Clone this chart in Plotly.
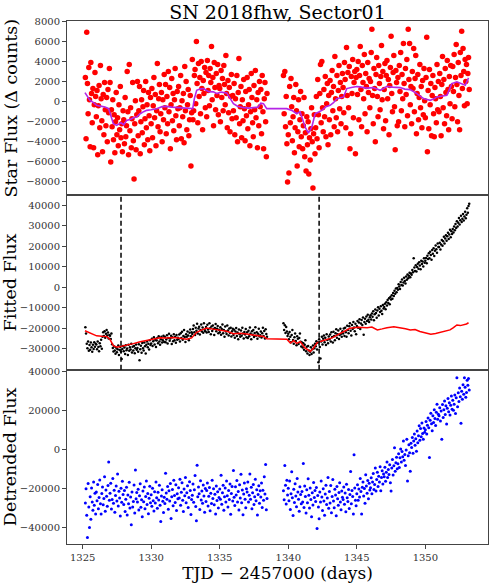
import plotly.graph_objects as go
from plotly.subplots import make_subplots

# observation times (TJD - 2457000), two orbits with a gap
t = [
    1325.20, 1325.25, 1325.30, 1325.35, 1325.40, 1325.45, 1325.50, 1325.55, 1325.60, 1325.65, 1325.70, 1325.75, 1325.80, 1325.85, 1325.90, 1325.95,
    1326.00, 1326.05, 1326.10, 1326.15, 1326.20, 1326.25, 1326.30, 1326.35, 1326.40, 1326.45, 1326.50, 1326.55, 1326.60, 1326.65, 1326.70, 1326.75, 1326.80, 1326.85, 1326.90, 1326.95,
    1327.00, 1327.05, 1327.10, 1327.15, 1327.20, 1327.25, 1327.30, 1327.35, 1327.40, 1327.45, 1327.50, 1327.55, 1327.60, 1327.65, 1327.70, 1327.75, 1327.80, 1327.85, 1327.90, 1327.95,
    1328.00, 1328.05, 1328.10, 1328.15, 1328.20, 1328.25, 1328.30, 1328.35, 1328.40, 1328.45, 1328.50, 1328.55, 1328.60, 1328.65, 1328.70, 1328.75, 1328.80, 1328.85, 1328.90, 1328.95,
    1329.00, 1329.05, 1329.10, 1329.15, 1329.20, 1329.25, 1329.30, 1329.35, 1329.40, 1329.45, 1329.50, 1329.55, 1329.60, 1329.65, 1329.70, 1329.75, 1329.80, 1329.85, 1329.90, 1329.95,
    1330.00, 1330.05, 1330.10, 1330.15, 1330.20, 1330.25, 1330.30, 1330.35, 1330.40, 1330.45, 1330.50, 1330.55, 1330.60, 1330.65, 1330.70, 1330.75, 1330.80, 1330.85, 1330.90, 1330.95,
    1331.00, 1331.05, 1331.10, 1331.15, 1331.20, 1331.25, 1331.30, 1331.35, 1331.40, 1331.45, 1331.50, 1331.55, 1331.60, 1331.65, 1331.70, 1331.75, 1331.80, 1331.85, 1331.90, 1331.95,
    1332.00, 1332.05, 1332.10, 1332.15, 1332.20, 1332.25, 1332.30, 1332.35, 1332.40, 1332.45, 1332.50, 1332.55, 1332.60, 1332.65, 1332.70, 1332.75, 1332.80, 1332.85, 1332.90, 1332.95,
    1333.00, 1333.05, 1333.10, 1333.15, 1333.20, 1333.25, 1333.30, 1333.35, 1333.40, 1333.45, 1333.50, 1333.55, 1333.60, 1333.65, 1333.70, 1333.75, 1333.80, 1333.85, 1333.90, 1333.95,
    1334.00, 1334.05, 1334.10, 1334.15, 1334.20, 1334.25, 1334.30, 1334.35, 1334.40, 1334.45, 1334.50, 1334.55, 1334.60, 1334.65, 1334.70, 1334.75, 1334.80, 1334.85, 1334.90, 1334.95,
    1335.00, 1335.05, 1335.10, 1335.15, 1335.20, 1335.25, 1335.30, 1335.35, 1335.40, 1335.45, 1335.50, 1335.55, 1335.60, 1335.65, 1335.70, 1335.75, 1335.80, 1335.85, 1335.90, 1335.95,
    1336.00, 1336.05, 1336.10, 1336.15, 1336.20, 1336.25, 1336.30, 1336.35, 1336.40, 1336.45, 1336.50, 1336.55, 1336.60, 1336.65, 1336.70, 1336.75, 1336.80, 1336.85, 1336.90, 1336.95,
    1337.00, 1337.05, 1337.10, 1337.15, 1337.20, 1337.25, 1337.30, 1337.35, 1337.40, 1337.45, 1337.50, 1337.55, 1337.60, 1337.65, 1337.70, 1337.75, 1337.80, 1337.85, 1337.90, 1337.95,
    1338.00, 1338.05, 1338.10, 1338.15, 1338.20, 1338.25, 1338.30, 1338.35, 1338.40, 1338.45,
    1339.65, 1339.70, 1339.75, 1339.80, 1339.85, 1339.90, 1339.95,
    1340.00, 1340.05, 1340.10, 1340.15, 1340.20, 1340.25, 1340.30, 1340.35, 1340.40, 1340.45, 1340.50, 1340.55, 1340.60, 1340.65, 1340.70, 1340.75, 1340.80, 1340.85, 1340.90, 1340.95,
    1341.00, 1341.05, 1341.10, 1341.15, 1341.20, 1341.25, 1341.30, 1341.35, 1341.40, 1341.45, 1341.50, 1341.55, 1341.60, 1341.65, 1341.70, 1341.75, 1341.80, 1341.85, 1341.90, 1341.95,
    1342.00, 1342.05, 1342.10, 1342.15, 1342.20, 1342.25, 1342.30, 1342.35, 1342.40, 1342.45, 1342.50, 1342.55, 1342.60, 1342.65, 1342.70, 1342.75, 1342.80, 1342.85, 1342.90, 1342.95,
    1343.00, 1343.05, 1343.10, 1343.15, 1343.20, 1343.25, 1343.30, 1343.35, 1343.40, 1343.45, 1343.50, 1343.55, 1343.60, 1343.65, 1343.70, 1343.75, 1343.80, 1343.85, 1343.90, 1343.95,
    1344.00, 1344.05, 1344.10, 1344.15, 1344.20, 1344.25, 1344.30, 1344.35, 1344.40, 1344.45, 1344.50, 1344.55, 1344.60, 1344.65, 1344.70, 1344.75, 1344.80, 1344.85, 1344.90, 1344.95,
    1345.00, 1345.05, 1345.10, 1345.15, 1345.20, 1345.25, 1345.30, 1345.35, 1345.40, 1345.45, 1345.50, 1345.55, 1345.60, 1345.65, 1345.70, 1345.75, 1345.80, 1345.85, 1345.90, 1345.95,
    1346.00, 1346.05, 1346.10, 1346.15, 1346.20, 1346.25, 1346.30, 1346.35, 1346.40, 1346.45, 1346.50, 1346.55, 1346.60, 1346.65, 1346.70, 1346.75, 1346.80, 1346.85, 1346.90, 1346.95,
    1347.00, 1347.05, 1347.10, 1347.15, 1347.20, 1347.25, 1347.30, 1347.35, 1347.40, 1347.45, 1347.50, 1347.55, 1347.60, 1347.65, 1347.70, 1347.75, 1347.80, 1347.85, 1347.90, 1347.95,
    1348.00, 1348.05, 1348.10, 1348.15, 1348.20, 1348.25, 1348.30, 1348.35, 1348.40, 1348.45, 1348.50, 1348.55, 1348.60, 1348.65, 1348.70, 1348.75, 1348.80, 1348.85, 1348.90, 1348.95,
    1349.00, 1349.05, 1349.10, 1349.15, 1349.20, 1349.25, 1349.30, 1349.35, 1349.40, 1349.45, 1349.50, 1349.55, 1349.60, 1349.65, 1349.70, 1349.75, 1349.80, 1349.85, 1349.90, 1349.95,
    1350.00, 1350.05, 1350.10, 1350.15, 1350.20, 1350.25, 1350.30, 1350.35, 1350.40, 1350.45, 1350.50, 1350.55, 1350.60, 1350.65, 1350.70, 1350.75, 1350.80, 1350.85, 1350.90, 1350.95,
    1351.00, 1351.05, 1351.10, 1351.15, 1351.20, 1351.25, 1351.30, 1351.35, 1351.40, 1351.45, 1351.50, 1351.55, 1351.60, 1351.65, 1351.70, 1351.75, 1351.80, 1351.85, 1351.90, 1351.95,
    1352.00, 1352.05, 1352.10, 1352.15, 1352.20, 1352.25, 1352.30, 1352.35, 1352.40, 1352.45, 1352.50, 1352.55, 1352.60, 1352.65, 1352.70, 1352.75, 1352.80, 1352.85, 1352.90, 1352.95,
    1353.00, 1353.05, 1353.10, 1353.15, 1353.20,
]

# star flux (delta counts)
star_flux = [
    2400, -3700, 6900, 1800, -1200, 3400, 200, -4500, 3900, 800, -2100, 1300, -4600, -300, 2900, 500,
    -1500, 1100, -5300, -400, 1600, -2600, 3600, 300, -1900, -5000, 700, -3300, 1900, -800, -2400, 400, -4000, 1200, -1100, 3300,
    1900, -6000, -800, -2500, 200, -3800, -1300, -5100, -2000, 900, -3300, -1600, -4400, -300, -2800, 1500, -3600, -2200, -5000, -900,
    -1800, -4200, 400, -3500, -2400, 3000, -1000, -5300, 3700, -2900, -600, -4600, -1700, 1900, -3900, -7700, -2200, 100, -4800, -1300,
    2000, -3400, -900, 1500, -5200, -2000, 200, -3100, -500, 1100, -4300, -1700, 2000, -2600, -300, -3800, 900, -1400, -4900, 400,
    -2200, 1300, -3600, -400, 2400, -1600, 700, -4400, -900, 3800, -2500, 300, 1700, -3000, -1200, 900, -4000, 200, -1800, 2700,
    -600, 1700, -3200, 500, -2200, 3000, -1000, 1400, -4700, -300, 2300, -1900, 800, -2900, 200, 3300, -1400, -3800, 1000, -700,
    1500, -2400, -600, 2600, -3700, 100, -1500, 800, -4100, 3500, -900, 2000, -2800, -300, 1200, -3400, -1800, 600, -6400, -1100,
    4200, -1800, -900, 2600, 3200, -200, 6000, 1800, -2100, 3800, 500, 2400, -1200, 4000, 1300, -2800, 2100, 800, 3400, -600,
    2900, -1500, 4100, 1100, 2600, -400, 3300, 1900, 5500, 200, 2400, -2400, 3900, 1400, -800, 2800, 600, 3700, -1300, 1600,
    1300, -2000, 3100, 400, 2300, -900, 3600, 1700, -300, 4600, 800, -2600, 2100, -1100, 1400, -3000, 500, 2700, -1700, 600,
    -900, 1800, -3300, 300, -1600, 2600, -4000, 900, 4300, -2200, -500, 1500, -3600, 200, -1900, 2200, -700, -3900, 1000, -1400,
    2400, -2700, -300, 1200, -4400, -1000, 2800, 400, -2100, -3500, 1600, -800, 3100, -1600, 200, -4600, 900, -2400, 2000, -500,
    1200, -3200, 2600, -1000, -4700, 300, 1900, -2000, -5500, 800,
    2600, -1200, 3000, -2500, 500, -4200, -8000,
    -3300, -7100, 1500, -2100, 2300, -500, -3900, -1500, 400, -5100, -2600, 1700, -900, -6400, -3000, 200, -4500, -1800, 1000, -3500,
    -1200, -4700, -2400, 400, -5500, -3100, -6900, -1500, -4300, -2000, -7200, -3600, -5800, -2700, -600, -4000, -8600, -3200, -1300, -5200,
    -2600, 500, -3700, 2200, -1300, -4600, 800, 3700, -2100, 4000, -600, -3000, 1200, -1500, 2500, -3500, -200, 1800, -4300, 600,
    -1800, 2100, -3300, 900, 3100, -900, 1500, -2500, 4500, 300, -1600, 2600, -3000, 1100, 3600, -700, 1900, -2200, 500, 2800,
    1400, -1100, 3900, 2200, -2600, 5400, 600, 2900, -600, 3500, -4700, -3200, 2500, 800, 4200, -1600, 1900, 3000, -5200, 2400,
    3200, 700, 4000, -1800, 2600, 5500, 1200, -2500, 3600, 1900, 300, 4700, -1200, 2800, 1500, -3000, 3900, 900, 2300, -600,
    2000, 4900, 7200, 600, -2200, 3300, 1300, -4000, 2700, 4400, 500, -1500, 3600, 1800, -800, 2500, 5600, 200, 3000, -2700,
    1200, 3800, -1900, 2600, 4100, 300, 2200, -3300, 1600, 3400, 6500, 800, -1000, 2900, 4600, -500, -4800, 3100, 1900, -2400,
    2400, -2000, 3600, 1000, 4900, -900, 2700, 300, 5800, 1800, -2500, 3300, 700, 4200, -1400, 7200, 2200, 5800, -300, 1500,
    -2200, 3000, 1300, 5300, -1000, 2300, 4600, -3200, 800, 2700, -1800, 400, 3700, -600, 1500, -2600, 2100, -1300, 3300, 100,
    -1600, 2400, 6400, -5000, 1100, -2700, 3200, -300, 1800, -3400, 600, 2600, -1200, -3500, 1400, 300, -2100, 3700, -800, 2000,
    -1000, 2800, 500, -3400, 1700, 4500, -600, 2200, -2200, 3300, 900, -1400, 4100, 1200, -2800, 2500, -200, 3600, 1500, -1700,
    3500, 1000, 4700, -500, 2400, 5700, 1700, -2000, 3900, 600, -2800, 4900, 2600, 7000, 1300, 5300, 3000, -400, 4200, 2000,
    3700, -200, 2800, 4400, 1200,
]

# running trend of the star flux
trend_t = [1325.17, 1325.35, 1325.54, 1325.8, 1326.02, 1326.3, 1326.63, 1326.9, 1327.1, 1327.24,
           1327.48, 1327.8, 1328.0, 1328.21, 1328.5, 1328.7, 1328.94, 1329.2, 1329.45, 1329.67,
           1330.0, 1330.4, 1330.8, 1331.13, 1331.5, 1331.86, 1332.2, 1332.59, 1333.03, 1333.15,
           1333.32, 1333.55, 1333.81, 1334.2, 1334.54, 1334.8, 1335.1, 1335.51, 1335.75, 1336.0,
           1336.3, 1336.73, 1337.1, 1337.46, 1337.8, 1338.0, 1338.19, 1338.43, 1339.89, 1340.26,
           1340.62, 1340.86, 1341.05, 1341.23, 1341.47, 1341.72, 1341.96, 1342.2, 1342.45, 1342.75,
           1343.05, 1343.3, 1343.54, 1344.03, 1344.27, 1344.6, 1345.0, 1345.24, 1345.7, 1346.22,
           1346.7, 1346.95, 1347.19, 1347.6, 1348.16, 1348.5, 1348.89, 1349.38, 1349.87, 1350.35,
           1350.6, 1350.84, 1351.2, 1351.57, 1351.75, 1351.93, 1352.3, 1352.6, 1352.91, 1353.15]
trend_flux = [900, 500, 130, -100, -370, -450, -530, -700, -1500, -2200,
              -2370, -2100, -2300, -1870, -1750, -1600, -1530, -1200, -1000, -870,
              -800, -700, -500, -470, -550, -600, -650, -700, -700, 300,
              1130, 1250, 1300, 1000, 970, 800, 950, 870, 300, -200,
              -450, -600, -650, -600, -550, -150, -200, -700, -700, -870,
              -1200, -1000, -1800, -2530, -3130, -2530, -1200, -1000, -870, -500,
              -370, -100, 300, 470, 1300, 1400, 1500, 1470, 1350, 1400,
              1130, 1300, 1530, 1450, 1400, 1250, 1200, 800, 300, 130,
              250, 470, 550, 630, 1200, 1800, 1970, 1800, 1630, 2370]

# fitted flux
fitted_flux = [
    -19500, -22500, -27500, -29800, -26400, -31000, -28200, -30500, -27000, -29300, -31500, -28000, -30100, -26800, -29000, -27600,
    -27900, -30200, -26500, -29100, -31200, -27300, -28800, -25600, -30000, -24200, -22000, -23800, -21400, -24600, -22700, -20900, -23500, -22100, -25000, -23300,
    -23700, -25200, -22600, -27800, -29600, -31300, -28900, -30800, -32400, -29500, -31700, -30200, -28400, -33100, -30600, -29200, -31500, -35000, -30100, -28600,
    -31200, -29400, -32500, -28300, -30700, -29900, -33000, -28000, -31000, -29300, -30400, -27600, -31800, -29000, -30900, -28700, -32200, -29800, -27900, -30500,
    -29600, -31400, -27800, -35600, -30200, -28500, -31900, -27200, -29700, -30800, -26900, -28800, -32300, -28100, -26400, -29300, -27500, -30400, -25800, -28200,
    -27400, -25100, -28600, -26300, -24400, -27900, -25700, -29200, -26000, -24800, -27300, -23900, -26500, -28100, -25300, -24200, -27000, -25900, -23600, -26700,
    -24300, -26800, -25500, -23400, -27400, -24800, -22700, -26100, -25000, -23600, -27700, -24400, -26300, -22900, -25800, -24100, -27100, -23300, -25600, -24600,
    -25200, -23100, -26400, -22400, -24800, -21700, -25600, -23800, -20900, -24300, -26700, -22900, -24100, -21600, -23500, -25900, -22200, -20600, -23900, -21900,
    -22800, -20400, -18600, -21900, -23300, -19800, -21200, -17800, -22500, -20100, -19300, -23000, -20800, -18200, -21600, -19600, -22200, -17500, -20700, -21400,
    -19400, -22100, -18300, -20600, -21800, -17600, -20000, -22900, -19200, -21300, -18700, -20400, -23300, -19900, -17900, -21500, -20200, -18900, -22400, -20700,
    -21900, -19500, -23200, -20400, -18200, -22400, -20900, -24100, -19100, -21600, -22800, -18700, -21100, -23500, -20100, -22300, -19700, -24000, -21400, -20200,
    -23300, -20700, -24600, -21600, -19900, -23800, -22100, -25300, -20600, -22900, -24200, -21100, -23600, -19800, -22500, -25000, -21800, -23100, -20300, -24400,
    -22000, -24700, -21200, -23900, -19600, -22600, -25400, -21500, -23200, -20800, -24300, -22300, -19500, -23700, -21900, -25100, -22700, -20200, -24000, -23400,
    -21600, -24500, -22400, -19700, -23800, -21300, -25000, -20500, -22800, -24100,
    -17600, -20900, -18500, -22300, -19400, -21600, -23800,
    -22700, -25400, -21800, -24100, -26800, -23300, -20900, -25700, -27500, -24400, -22500, -26200, -28300, -23900, -25100, -27700, -24800, -22600, -26600, -28900,
    -26900, -29400, -27300, -30500, -28100, -25900, -31200, -29000, -32300, -28600, -30800, -33100, -31500, -29300, -32600, -30200, -28400, -31800, -29700, -27500,
    -28800, -26300, -30400, -27100, -36600, -25400, -29100, -34700, -26500, -24100, -27900, -25100, -23500, -26800, -24600, -28200, -22900, -25700, -27300, -24000,
    -25400, -23100, -26500, -22000, -24300, -27000, -21700, -23800, -25800, -22400, -20500, -24600, -22900, -21100, -25200, -23300, -20200, -22700, -24100, -21400,
    -22600, -20100, -23800, -19700, -21900, -24100, -18800, -20900, -22400, -19000, -17600, -21200, -23500, -18400, -20300, -16900, -19600, -21500, -17800, -22900,
    -18900, -16400, -19800, -17200, -15600, -20300, -17700, -16000, -18400, -14800, -23200, -16900, -15300, -17800, -14200, -16500, -13400, -15900, -17000, -14600,
    -13600, -15700, -12800, -14400, -11700, -16100, -13200, -10900, -12600, -14900, -11300, -9800, -13800, -10500, -12100, -9200, -11500, -13100, -8700, -10300,
    -9600, -8100, -10700, -7300, -8900, -6200, -7700, -5400, -8300, -4700, -6000, -3900, -5600, -2800, -4300, -1700, -3200, -600, -2400, -300,
    -1200, 1500, 400, -900, 2600, 1100, 3800, 900, 2300, 4600, 3100, 1800, 5300, 3700, 6200, 4400, 5600, 7100, 4900, 6700,
    6100, 8400, 7300, 14100, 9600, 8000, 10800, 7700, 9900, 11500, 9000, 12200, 10600, 8800, 13000, 11300, 12600, 10100, 14200, 12000,
    12900, 14300, 11700, 15400, 13800, 16600, 14100, 17300, 15700, 13400, 18200, 16300, 19100, 15200, 17800, 20400, 18500, 16900, 21300, 19600,
    19600, 21700, 18400, 20900, 23100, 20200, 22500, 24600, 21300, 23800, 25400, 22700, 24900, 26600, 23500, 25800, 28100, 24400, 27300, 26000,
    28400, 26700, 29600, 27800, 30900, 28900, 32200, 29700, 31500, 33800, 30600, 32700, 34900, 31800, 33400, 35800, 32600, 34500, 36900, 33700,
    35400, 38500, 36300, 39600, 40800,
]

# model (scaled star flux) over the fitted flux
model_t = [1325.17, 1325.5, 1325.8, 1326.02, 1326.4, 1326.75, 1327.0, 1327.24, 1327.5, 1327.85,
           1328.2, 1328.7, 1329.2, 1329.67, 1330.1, 1330.64, 1331.1, 1331.62, 1332.1, 1332.59,
           1332.95, 1333.32, 1333.7, 1334.05, 1334.4, 1334.78, 1335.1, 1335.51, 1336.0, 1336.5,
           1336.97, 1337.5, 1337.9, 1338.19, 1338.43, 1339.9, 1340.15, 1340.4, 1340.6, 1340.88,
           1341.2, 1341.4, 1341.6, 1341.85, 1342.1, 1342.4, 1342.8, 1343.2, 1343.6, 1344.0,
           1344.5, 1345.1, 1345.75, 1346.1, 1346.5, 1346.85, 1347.2, 1347.7, 1348.2, 1348.55,
           1348.9, 1349.25, 1349.6, 1350.0, 1350.4, 1350.75, 1351.1, 1351.45, 1351.8, 1352.05,
           1352.3, 1352.55, 1352.8, 1353.0, 1353.15]
model_flux = [-21200, -22300, -23200, -23700, -23900, -24000, -25500, -28500, -29200, -28800,
              -28200, -27500, -26600, -25900, -25200, -24600, -24800, -24500, -24900, -25300,
              -24700, -22000, -20800, -19900, -20300, -20700, -21000, -21500, -22700, -22400,
              -22850, -23200, -23500, -24000, -25100, -25300, -27200, -26000, -27400, -26600,
              -29500, -30600, -31300, -29600, -27100, -26300, -25500, -24700, -23200, -21800,
              -20000, -19500, -19700, -19400, -20800, -20300, -19700, -19300, -19700, -20200,
              -20800, -20600, -21600, -22300, -22900, -22600, -21900, -21400, -20800, -19700,
              -18400, -18700, -18400, -17900, -17300]

# fit window edges
window_lines = [1327.80, 1342.25]

# detrended flux
detrended_flux = [
    -27500, -20100, -33800, -45200, -17400, -29600, -40100, -24300, -35800, -19700, -26900, -31200, -16600, -28600, -22400, -33100,
    -21800, -26300, -17900, -30500, -24700, -15600, -27900, -33200, -22600, -19300, -28400, -25100, -13900, -31700, -20800, -24000, -29200, -18500, -6300, -26100,
    -22400, -17300, -30600, -25700, -14800, -27600, -20900, -32300, -23600, -18700, -26500, -12600, -29000, -21400, -24900, -34200, -19900, -27100, -16300, -23100,
    -28300, -21000, -31800, -25600, -19400, -33700, -23300, -27900, -16800, -30100, -24400, -38700, -21800, -29500, -26700, -18200, -32600, -10500, -25300, -22100,
    -27000, -20400, -31100, -23700, -17500, -29700, -25800, -34500, -21300, -26800, -19200, -30400, -24100, -16100, -28300, -22600, -33000, -25000, -18800, -27400,
    -23200, -29100, -19900, -26300, -31600, -21700, -27500, -16700, -24800, -30200, -22000, -25900, -18300, -28700, -37000, -23900, -20700, -26600, -32400, -24500,
    -27800, -12100, -22300, -25600, -19000, -30700, -21200, -26400, -17400, -35500, -24300, -20500, -28900, -15800, -23600, -27200, -18100, -31400, -22700, -25300,
    -19600, -24900, -15300, -28600, -21900, -17000, -26100, -31900, -20300, -23700, -14400, -27300, -22200, -18600, -29800, -24600, -16500, -21100, -33400, -25700,
    -23500, -17700, -27100, -20600, -13300, -29300, -36600, -8000, -24200, -19300, -22700, -30800, -16000, -25900, -21300, -27600, -18200, -23900, -32200, -20000,
    -26700, -21100, -17200, -29000, -24000, -19500, -31500, -22500, -27800, -15700, -25200, -20100, -28400, -23000, -33100, -18700, -26200, -21700, -30000, -24600,
    -20300, -25500, -13200, -28100, -22200, -18400, -31200, -24300, -19700, -27000, -16200, -23800, -29500, -21000, -25700, -17700, -33300, -22600, -19000, -26400,
    -10800, -24500, -28800, -19100, -23300, -15900, -26900, -21500, -31100, -18100, -24900, -12700, -27300, -20800, -33500, -22900, -17200, -25600, -29900, -20100,
    -21800, -16600, -27000, -23500, -12600, -25500, -19400, -30400, -22200, -17900, -28200, -24200, -15200, -26300, -20600, -33600, -23100, -18600, -27600, -21200,
    -24400, -17200, -29800, -20900, -26000, -13900, -22800, -7600, -31000, -25200,
    -21200, -25800, -8200, -18400, -28000, -15800, -23400,
    -19900, -26300, -16200, -30800, -22700, -11400, -24800, -33900, -20400, -27200, -17600, -23900, -29400, -14900, -21800, -25600, -31700, -19100, -23100, -27900,
    -21500, -26900, -7100, -29800, -18700, -24100, -32600, -20600, -27400, -15000, -23500, -30100, -19800, -25700, -34600, -22200, -28500, -16900, -24700, -21000,
    -26700, -19500, -40600, -23600, -29600, -35600, -21800, -27000, -16100, -24400, -31400, -20100, -26500, -33800, -22900, -18300, -28300, -24900, -14300, -30200,
    -21600, -27500, -18500, -32500, -24100, -15400, -26400, -29900, -20400, -23300, -34100, -19000, -25300, -28700, -22100, -17100, -26900, -30900, -21300, -24500,
    -25700, -19300, -28100, -22300, -32000, -17800, -24800, -26700, -20500, -30300, -23100, -11200, -27900, -21000, -24100, -33100, -2600, -19700, -26000, -28900,
    -22700, -18100, -26000, -20300, -24400, -14800, -21600, -33200, -19400, -16600, -23900, -20000, -27600, -12900, -18700, -22500, -15900, -25300, -17300, -20800,
    -19600, -14500, -22700, -16600, -12300, -20500, -17900, -9500, -21300, -15400, -11700, -19000, -13700, -16600, -8800, -21200, -14300, -10900, -17700, -12500,
    -13900, -9000, -16300, -11600, -6300, -14400, -10200, -12800, -7800, -17100, -21300, -9500, -5100, -13000, -8300, 1000, -11100, -6700, -3900, -9800,
    -7200, -2100, -9200, -4200, 400, -6400, -1000, -3600, 4400, -5400, -2500, -8100, -200, 5400, -16200, -3100, 2500, -1600, -11100, 3300,
    1100, 6200, -1900, 4400, 8000, 2300, 5600, -800, 9600, 3500, 7200, 12300, 4900, 10900, 6600, 13700, 8300, 5300, 11200, 9000,
    10200, 14500, 8000, 12600, 16300, 11300, -4000, 15200, 18800, 13400, 9800, 17500, 14000, 20600, 16000, 12400, 19300, 23400, 15600, 18200,
    17400, 21600, 14800, 19900, 5300, 23300, 16600, 20500, 25000, 18100, 22600, 13200, 21300, 26400, 19500, 24200, 17900, 22900, 27600, 20800,
    25500, 20300, 23400, 28200, 18600, 26700, 37100, 22100, 29300, 24800, 31800, 27300, 13600, 30100, 25900, 33400, 28600, 37000, 32100, 27000,
    29500, 35800, 33200, 36600, 30700,
]

x_ticks = [1325, 1330, 1335, 1340, 1345, 1350]
star_ticks = [-8000, -6000, -4000, -2000, 0, 2000, 4000, 6000, 8000]
fitted_ticks = [-30000, -20000, -10000, 0, 10000, 20000, 30000, 40000]
detrended_ticks = [-40000, -20000, 0, 20000, 40000]

SERIF = "DejaVu Serif"
AXIS = "#444444"

fig = make_subplots(rows=3, cols=1, shared_xaxes=True, vertical_spacing=0)

fig.add_trace(go.Scatter(x=t, y=star_flux, mode="markers",
                         marker=dict(color="#ff0000", size=5.5, line=dict(width=0))), row=1, col=1)
fig.add_trace(go.Scatter(x=trend_t, y=trend_flux, mode="lines",
                         line=dict(color="#b425e6", width=1.6)), row=1, col=1)

fig.add_trace(go.Scatter(x=t, y=fitted_flux, mode="markers",
                         marker=dict(color="black", size=2.5, line=dict(width=0))), row=2, col=1)
fig.add_trace(go.Scatter(x=model_t, y=model_flux, mode="lines",
                         line=dict(color="#ff0000", width=1.5)), row=2, col=1)

fig.add_trace(go.Scatter(x=t, y=detrended_flux, mode="markers",
                         marker=dict(color="#0000ff", size=3, line=dict(width=0))), row=3, col=1)

for xv in window_lines:
    fig.add_vline(x=xv, line=dict(color="black", width=1.5, dash="5px,3px"), row=2, col=1)

# axes: closed frame on every panel, ticks only where matplotlib shows them
fig.update_xaxes(range=[1323.86, 1354.57], showline=True, mirror=True, linecolor=AXIS,
                 linewidth=1, showgrid=False, zeroline=False, ticks="")
fig.update_xaxes(ticks="outside", ticklen=4, tickcolor=AXIS, tickvals=x_ticks,
                 title=dict(text="TJD − 2457000 (days)", font=dict(size=17, color="black"), standoff=6),
                 row=3, col=1)

ytitles = ["Star Flux (Δ counts)", "Fitted Flux", "Detrended Flux"]
yranges = [[-9330, 8030], [-40200, 44860], [-48600, 41200]]
yticks = [star_ticks, fitted_ticks, detrended_ticks]
for i in range(3):
    fig.update_yaxes(range=yranges[i], tickvals=yticks[i], tickformat="d",
                     showline=True, mirror=True, linecolor=AXIS, linewidth=1,
                     showgrid=False, zeroline=False, ticks="outside", ticklen=4, tickcolor=AXIS,
                     title=dict(text=ytitles[i], font=dict(size=17.5, color="black"), standoff=4),
                     row=i + 1, col=1)

fig.update_layout(
    width=490, height=583,
    margin=dict(l=67, r=2, t=21, b=39),
    paper_bgcolor="white", plot_bgcolor="white",
    font=dict(family=SERIF, size=10, color="#333333"),
    showlegend=False,
    title=dict(text="SN 2018fhw, Sector01", x=0.5, xref="paper", xanchor="center",
               y=1, yref="paper", yanchor="bottom", pad=dict(b=2),
               font=dict(size=19, color="black")),
)

fig.write_html("out.html", config={"displayModeBar": False},
               post_script="document.body.style.margin='0';")
